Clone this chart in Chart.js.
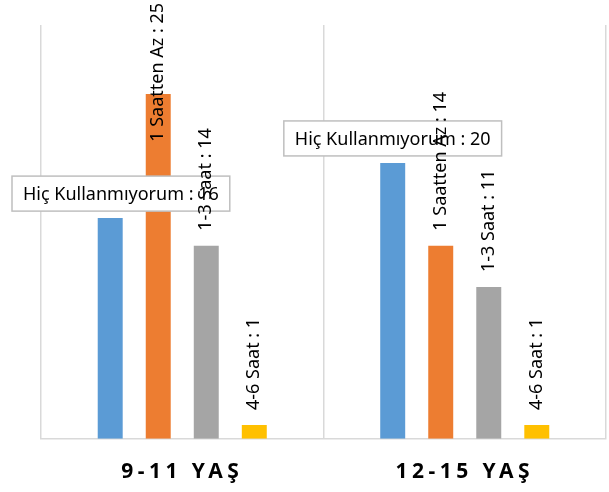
<!DOCTYPE html>
<html>
<head>
<meta charset="utf-8">
<script src="https://cdn.jsdelivr.net/npm/chart.js@4"></script>
<style>
  html, body { margin: 0; padding: 0; background: #fff; }
  #wrap { width: 609px; height: 492px; }
</style>
</head>
<body>
<div id="wrap"><canvas id="usageChart" width="609" height="492"></canvas></div>
<script>
const ageGroups = ['9-11 YAŞ', '12-15 YAŞ'];
const seriesNames = ['Hiç Kullanmıyorum', '1 Saatten Az', '1-3 Saat', '4-6 Saat'];
const neverUse = [16, 20];
const underOneHour = [25, 14];
const oneToThree = [14, 11];
const fourToSix = [1, 1];
const seriesColors = ['#5b9bd5', '#ed7d31', '#a5a5a5', '#ffc000'];

const labelFont = '18px "Noto Sans"';

// draws the value labels like the original: boxed for the first series, rotated for the rest
const valueLabels = {
    id: 'valueLabels',
    afterDatasetsDraw(chart) {
        const ctx = chart.ctx;
        ctx.save();
        ctx.font = labelFont;
        ctx.fillStyle = '#000';
        chart.data.datasets.forEach((ds, di) => {
            const meta = chart.getDatasetMeta(di);
            meta.data.forEach((bar, i) => {
                const text = ds.label + ' : ' + ds.data[i];
                const w = ctx.measureText(text).width;
                if (di === 0) {
                    const bw = w + 22, bh = 35;
                    let left = bar.x - bw / 2;
                    if (left < 12) left = 12;
                    const top = bar.y - 7 - bh;
                    ctx.fillStyle = '#fff';
                    ctx.fillRect(left, top, bw, bh);
                    ctx.strokeStyle = '#bfbfbf';
                    ctx.lineWidth = 1.5;
                    ctx.strokeRect(left, top, bw, bh);
                    ctx.fillStyle = '#000';
                    ctx.textAlign = 'center';
                    ctx.textBaseline = 'middle';
                    ctx.fillText(text, left + bw / 2, top + bh / 2 + 1);
                } else {
                    let start = bar.y - 15;
                    if (start - w < 3) start = w + 3;
                    ctx.save();
                    ctx.translate(bar.x, start);
                    ctx.rotate(-Math.PI / 2);
                    ctx.textAlign = 'left';
                    ctx.textBaseline = 'middle';
                    ctx.fillText(text, 0, 0);
                    ctx.restore();
                }
            });
        });
        ctx.restore();
    }
};

// wide letter spacing on the category labels
const spacedTicks = {
    id: 'spacedTicks',
    beforeDraw(chart) { chart.ctx.letterSpacing = '4.5px'; },
    beforeDatasetsDraw(chart) { chart.ctx.letterSpacing = '0px'; }
};

const ctx = document.getElementById('usageChart').getContext('2d');
new Chart(ctx, {
    type: 'bar',
    data: {
        labels: ageGroups,
        datasets: [
            { label: seriesNames[0], data: neverUse, backgroundColor: seriesColors[0] },
            { label: seriesNames[1], data: underOneHour, backgroundColor: seriesColors[1] },
            { label: seriesNames[2], data: oneToThree, backgroundColor: seriesColors[2] },
            { label: seriesNames[3], data: fourToSix, backgroundColor: seriesColors[3] }
        ]
    },
    options: {
        responsive: false,
        animation: false,
        events: [],
        layout: { padding: { left: 41, right: 3, top: 25, bottom: -14 } },
        datasets: { bar: { barPercentage: 0.52, categoryPercentage: 0.68 } },
        plugins: { legend: { display: false }, tooltip: { enabled: false } },
        scales: {
            x: {
                grid: { offset: true, color: '#d9d9d9', lineWidth: 1.5, drawTicks: false },
                border: { color: '#d9d9d9', width: 1.5 },
                ticks: { color: '#000', padding: 21, font: { family: '"Noto Sans"', size: 21, weight: 'bold' } }
            },
            y: { display: false, min: 0, max: 30 }
        }
    },
    plugins: [valueLabels, spacedTicks]
});
</script>
</body>
</html>
